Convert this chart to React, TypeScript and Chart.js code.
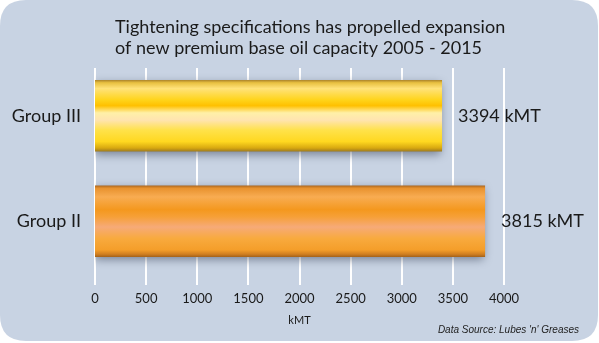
import React, { useEffect, useRef } from "react";
import { Chart, registerables } from "chart.js";

Chart.register(...registerables);

const categories = ["Group III", "Group II"];
const capacity = [3394, 3815];
const valueLabels = ["3394 kMT", "3815 kMT"];
const xTicks = [0, 500, 1000, 1500, 2000, 2500, 3000, 3500, 4000];
const titleLines = [
  "Tightening specifications has propelled expansion",
  "of new premium base oil capacity 2005 - 2015",
];
const axisTitle = "kMT";
const sourceNote = "Data Source: Lubes 'n' Greases";

const FONT = "Lato, 'Noto Sans', sans-serif";
const BAR_PCT = 0.85;
const CAT_PCT = 0.8;

function roundRect(ctx: CanvasRenderingContext2D, x: number, y: number, w: number, h: number, r: number) {
  ctx.beginPath();
  ctx.moveTo(x + r, y);
  ctx.lineTo(x + w - r, y);
  ctx.quadraticCurveTo(x + w, y, x + w, y + r);
  ctx.lineTo(x + w, y + h - r);
  ctx.quadraticCurveTo(x + w, y + h, x + w - r, y + h);
  ctx.lineTo(x + r, y + h);
  ctx.quadraticCurveTo(x, y + h, x, y + h - r);
  ctx.lineTo(x, y + r);
  ctx.quadraticCurveTo(x, y, x + r, y);
  ctx.closePath();
}

const yellowStops: [number, string][] = [
  [0, "#a8802a"],
  [0.04, "#e8c040"],
  [0.12, "#ffe27a"],
  [0.28, "#ffd41a"],
  [0.36, "#ffc000"],
  [0.46, "#fff0a8"],
  [0.56, "#ffe4b0"],
  [0.7, "#ffe24a"],
  [0.86, "#ffd820"],
  [0.95, "#d8a810"],
  [1, "#9a7820"],
];
const orangeStops: [number, string][] = [
  [0, "#a8641e"],
  [0.04, "#e8922e"],
  [0.16, "#f8ac52"],
  [0.34, "#f4981e"],
  [0.44, "#f6a038"],
  [0.58, "#f6aa78"],
  [0.74, "#f8aa3e"],
  [0.9, "#f49e2a"],
  [0.96, "#d07e20"],
  [1, "#a0601a"],
];

const panelPlugin = {
  id: "panel",
  beforeDraw(chart: any) {
    const ctx = chart.ctx as CanvasRenderingContext2D;
    ctx.save();
    ctx.fillStyle = "#ffffff";
    ctx.fillRect(0, 0, chart.width, chart.height);
    roundRect(ctx, 0, 0, 598, 341, 26);
    ctx.fillStyle = "#c8d3e3";
    ctx.fill();
    ctx.restore();
  },
};

const gridPlugin = {
  id: "customGrid",
  beforeDatasetsDraw(chart: any) {
    const ctx = chart.ctx as CanvasRenderingContext2D;
    const x = chart.scales.x;
    const area = chart.chartArea;
    ctx.save();
    ctx.strokeStyle = "#ffffff";
    ctx.lineWidth = 2;
    xTicks.forEach((v) => {
      const px = Math.round(x.getPixelForValue(v));
      ctx.beginPath();
      ctx.moveTo(px, area.top + 5);
      ctx.lineTo(px, area.bottom + 11);
      ctx.stroke();
    });
    ctx.restore();
    ctx.save();
    ctx.shadowColor = "rgba(50,60,80,0.55)";
    ctx.shadowBlur = 9;
    ctx.shadowOffsetX = -1;
    ctx.shadowOffsetY = 3;
  },
  afterDatasetsDraw(chart: any) {
    chart.ctx.restore();
  },
};

const textPlugin = {
  id: "texts",
  afterDraw(chart: any) {
    const ctx = chart.ctx as CanvasRenderingContext2D;
    const xs = chart.scales.x;
    const ys = chart.scales.y;
    ctx.save();
    ctx.fillStyle = "#1a1a1a";
    ctx.textBaseline = "middle";
    ctx.textAlign = "left";
    ctx.font = `18px ${FONT}`;
    ctx.fillText(titleLines[0], 115, 27);
    ctx.fillText(titleLines[1], 115, 48);
    capacity.forEach((v, i) => {
      const px = xs.getPixelForValue(v);
      const py = ys.getPixelForValue(i);
      ctx.fillText(valueLabels[i], px + 16, py);
    });
    ctx.font = `italic 10px Arial, 'Liberation Sans', sans-serif`;
    ctx.textAlign = "right";
    ctx.fillStyle = "#222222";
    ctx.fillText(sourceNote, 579, 330);
    ctx.restore();
  },
};

export default function App() {
  const ref = useRef<HTMLCanvasElement>(null);
  useEffect(() => {
    document.body.style.margin = "0";
    const canvas = ref.current!;
    const ctx0 = canvas.getContext("2d")!;
    const makeGrad = (chart: any, stops: [number, string][], index: number) => {
      const area = chart.chartArea;
      const ys = chart.scales && chart.scales.y;
      if (!area || !ys) return stops[3][1];
      const cy = ys.getPixelForValue(index);
      const h = ((area.bottom - area.top) / categories.length) * BAR_PCT * CAT_PCT;
      const top = cy - h / 2;
      if (!isFinite(top) || !isFinite(h) || h <= 0) return stops[3][1];
      const g = chart.ctx.createLinearGradient(0, top, 0, top + h);
      stops.forEach(([o, c]) => g.addColorStop(o, c));
      return g;
    };
    const chart = new Chart(ctx0, {
      type: "bar",
      data: {
        labels: categories,
        datasets: [
          {
            data: capacity,
            backgroundColor: (c: any) =>
              makeGrad(c.chart, c.dataIndex === 0 ? yellowStops : orangeStops, c.dataIndex),
            borderWidth: 0,
            barPercentage: BAR_PCT,
            categoryPercentage: CAT_PCT,
          },
        ],
      },
      options: {
        indexAxis: "y",
        responsive: false,
        animation: false,
        events: [],
        layout: { padding: { top: 63, right: 95, left: 0, bottom: 0 } },
        plugins: {
          legend: { display: false },
          title: { display: false },
          tooltip: { enabled: false },
        },
        scales: {
          x: {
            min: 0,
            max: 4000,
            afterBuildTicks: (s: any) => {
              s.ticks = xTicks.map((v) => ({ value: v }));
            },
            afterFit: (s: any) => {
              s.height = 343 - 274;
            },
            grid: { display: false, drawTicks: false },
            border: { display: false },
            ticks: {
              padding: 17,
              color: "#1a1a1a",
              font: { family: FONT, size: 13 },
              maxRotation: 0,
              autoSkip: false,
              callback: (v: any) => String(v),
            },
            title: {
              display: true,
              text: axisTitle,
              color: "#1a1a1a",
              font: { family: FONT, size: 11 },
              padding: { top: 6, bottom: 16 },
            },
          },
          y: {
            afterFit: (s: any) => {
              s.width = 95;
            },
            grid: { display: false, drawTicks: false },
            border: { display: false },
            ticks: {
              padding: 14,
              color: "#1a1a1a",
              font: { family: FONT, size: 18 },
            },
          },
        },
      },
      plugins: [panelPlugin, gridPlugin, textPlugin],
    } as any);
    return () => chart.destroy();
  }, []);
  return <canvas ref={ref} width={599} height={343} style={{ display: "block", width: 599, height: 343 }} />;
}
